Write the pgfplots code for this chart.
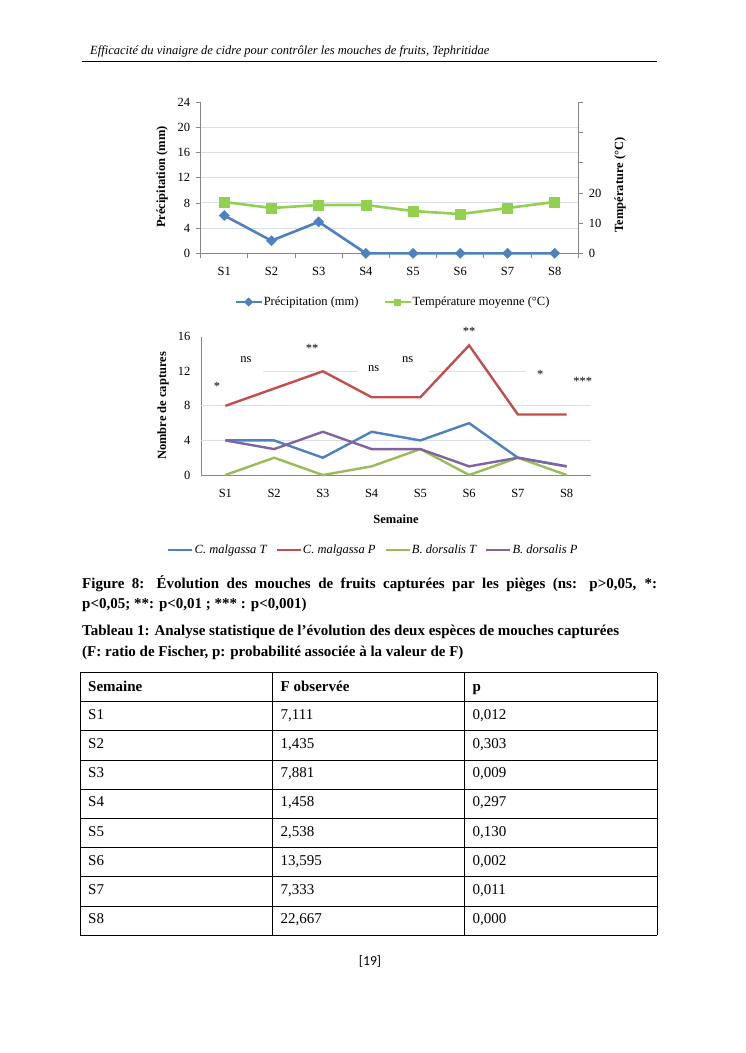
\documentclass[border=0pt]{standalone}
\usepackage{fontspec}
\setmainfont{Liberation Serif}
\newfontfamily\calib{Carlito}
\usepackage{pgfplots}
\pgfplotsset{compat=1.18}
\definecolor{cblue}{RGB}{79,129,189}
\definecolor{cred}{RGB}{192,80,77}
\definecolor{cgreen}{RGB}{155,187,89}
\definecolor{cpurple}{RGB}{128,100,162}
\definecolor{lgreen}{RGB}{146,208,80}
\definecolor{gridc}{RGB}{217,223,234}
\definecolor{axc}{RGB}{134,134,134}
\newcommand\cf{\fontsize{12.5}{15}\selectfont}
\newcommand\bff{\fontsize{15}{18}\selectfont\bfseries}
\newcommand\tf{\fontsize{15}{18}\selectfont}
\begin{document}
\begin{tikzpicture}
\useasboundingbox[fill=white] (0pt,0pt) rectangle (745pt,-1053pt);
% header
\node[anchor=base west, font=\cf\itshape, inner sep=0] at (90pt,-54pt) {Efficacité du vinaigre de cidre pour contrôler les mouches de fruits, Tephritidae};
\draw[line width=1pt] (82pt,-61pt) -- (657pt,-61pt);

% ---------- Chart 1 ----------
\begin{axis}[
 at={(200.7pt,-253.3pt)}, anchor=south west,
 scale only axis, width=377.6pt, height=151pt,
 xmin=0.5, xmax=8.5, ymin=0, ymax=24,
 axis x line*=bottom, axis y line*=left,
 axis line style={axc, line width=0.8pt},
 xtick={1,...,8}, xticklabels={S1,S2,S3,S4,S5,S6,S7,S8},
 major x tick style={draw=none},
 minor xtick={0.5,1.5,...,8.5},
 ytick={0,4,...,24},
 extra y ticks={4,8,...,20}, extra y tick labels={}, extra y tick style={grid=major},
 grid style={gridc, line width=1pt},
 tick align=outside, major tick length=5pt, minor tick length=5pt,
 tick style={axc, line width=0.8pt},
 tick label style={font=\cf},
 /pgf/number format/assume math mode=true,
 xticklabel style={yshift=-5pt}, yticklabel style={xshift=-2pt},
 clip=false,
]
\addplot[cblue, line width=2.6pt, mark=square*, mark size=3.6pt, mark options={solid, line width=0.4pt, rotate=45}] coordinates {(1,6)(2,2)(3,5)(4,0)(5,0)(6,0)(7,0)(8,0)};
\end{axis}
\begin{axis}[
 at={(200.7pt,-253.3pt)}, anchor=south west,
 scale only axis, width=377.6pt, height=151pt,
 xmin=0.5, xmax=8.5, ymin=0, ymax=50,
 axis x line=none, axis y line*=right,
 axis line style={axc, line width=0.8pt},
 ytick={0,10,...,50}, yticklabels={0,10,20,{},{},{}},
 tick align=outside, major tick length=5pt,
 tick style={axc, line width=0.8pt},
 tick label style={font=\cf},
 /pgf/number format/assume math mode=true,
 yticklabel style={xshift=2pt},
 legend style={at={(0.508,-0.3225)}, anchor=center, legend columns=-1, draw=none, font=\cf,
   /tikz/every even column/.append style={column sep=24pt}, nodes={inner sep=1pt}},
 legend image code/.code={\draw[#1, mark size=3pt, line width=2.2pt, mark repeat=2, mark phase=2] plot coordinates {(0pt,0pt)(13pt,0pt)(26pt,0pt)};},
 legend cell align=left,
]
\addlegendimage{cblue, line width=2.6pt, mark=square*, mark options={solid, line width=0.4pt, rotate=45}}
\addlegendentry{Précipitation (mm)}
\addplot[lgreen, line width=2.6pt, mark=square*, mark size=5pt, mark options={solid, line width=0.4pt}] coordinates {(1,17)(2,15)(3,16)(4,16)(5,14)(6,13)(7,15)(8,17)};
\addlegendentry{Température moyenne (°C)}
\end{axis}
\node[rotate=90, font=\cf\bfseries] at (162pt,-177pt) {Précipitation (mm)};
\node[rotate=90, font=\cf\bfseries] at (620pt,-185pt) {Température (°C)};

% ---------- Chart 2 ----------
\begin{axis}[
 at={(201pt,-475pt)}, anchor=south west,
 scale only axis, width=390pt, height=138.3pt,
 xmin=0.5, xmax=8.5, ymin=0, ymax=16,
 axis x line*=bottom, axis y line*=left,
 axis line style={axc, line width=0.8pt},
 xtick={1,...,8}, xticklabels={S1,S2,S3,S4,S5,S6,S7,S8},
 ytick={0,4,...,16}, major tick length=0pt,
 extra y ticks={4,8}, extra y tick labels={}, extra y tick style={grid=major},
 grid style={gridc, line width=1pt},
 tick label style={font=\cf},
 /pgf/number format/assume math mode=true,
 xticklabel style={yshift=-11pt}, yticklabel style={xshift=-7pt},
 legend style={at={(0.4408,-0.542)}, anchor=center, legend columns=-1, draw=none, font=\cf\itshape,
   /tikz/every even column/.append style={column sep=8pt}, nodes={inner sep=1pt}},
 legend image code/.code={\draw[#1] (0pt,0pt) -- (24pt,0pt);},
 legend cell align=left,
 clip=false,
]
\draw[gridc, line width=1pt] (axis cs:1.77,12) -- (axis cs:3.72,12);
\draw[gridc, line width=1pt] (axis cs:5.19,12) -- (axis cs:7.17,12);
\addplot[cblue, line width=2.4pt] coordinates {(1,4)(2,4)(3,2)(4,5)(5,4)(6,6)(7,2)(8,1)};
\addlegendentry{C. malgassa T}
\addplot[cred, line width=2.4pt] coordinates {(1,8)(2,10)(3,12)(4,9)(5,9)(6,15)(7,7)(8,7)};
\addlegendentry{C. malgassa P}
\addplot[cgreen, line width=2.4pt] coordinates {(1,0)(2,2)(3,0)(4,1)(5,3)(6,0)(7,2)(8,0)};
\addlegendentry{B. dorsalis T}
\addplot[cpurple, line width=2.4pt] coordinates {(1,4)(2,3)(3,5)(4,3)(5,3)(6,1)(7,2)(8,1)};
\addlegendentry{B. dorsalis P}
\node[font=\cf] at (axis cs:0.83,10.3) {*};
\node[font=\cf] at (axis cs:1.42,13.4) {ns};
\node[font=\cf] at (axis cs:2.78,14.6) {**};
\node[font=\cf] at (axis cs:4.04,12.35) {ns};
\node[font=\cf] at (axis cs:4.74,13.4) {ns};
\node[font=\cf] at (axis cs:6.0,16.6) {**};
\node[font=\cf] at (axis cs:7.46,11.65) {*};
\node[font=\cf] at (axis cs:8.33,10.8) {***};
\end{axis}
\node[rotate=90, font=\cf\bfseries] at (163pt,-406pt) {Nombre de captures};
\node[font=\cf\bfseries] at (396pt,-519pt) {Semaine};

% ---------- Captions ----------
\node[anchor=base west, inner sep=0, font=\bff] at (82pt,-588pt) {\makebox[575pt][s]{Figure 8: Évolution des mouches de fruits capturées par les pièges (ns: p>0,05, *:}};
\node[anchor=base west, inner sep=0, font=\bff] at (82pt,-608pt) {p<0,05; **: p<0,01 ; *** : p<0,001)};
\node[anchor=base west, inner sep=0, font=\bff] at (82pt,-635pt) {Tableau 1: Analyse statistique de l’évolution des deux espèces de mouches capturées};
\node[anchor=base west, inner sep=0, font=\bff] at (82pt,-656pt) {(F: ratio de Fischer, p: probabilité associée à la valeur de F)};

% ---------- Table ----------
\foreach \x in {80,272.3,464.7,657} \draw[line width=0.9pt] (\x pt,-672.7pt) -- (\x pt,-935.3pt);
\draw[line width=0.9pt] (80pt,-672.7pt) -- (657pt,-672.7pt);
\foreach \i in {0,...,8} \draw[line width=0.9pt] (80pt,{-701.7pt-\i*29.2pt}) -- (657pt,{-701.7pt-\i*29.2pt});
\node[anchor=base west, inner sep=0, font=\bff] at (88pt,-691pt) {Semaine};
\node[anchor=base west, inner sep=0, font=\bff] at (280.5pt,-691pt) {F observée};
\node[anchor=base west, inner sep=0, font=\bff] at (472.5pt,-691pt) {p};
\foreach \s/\f/\p [count=\i from 0] in {S1/{7,111}/{0,012}, S2/{1,435}/{0,303}, S3/{7,881}/{0,009}, S4/{1,458}/{0,297}, S5/{2,538}/{0,130}, S6/{13,595}/{0,002}, S7/{7,333}/{0,011}, S8/{22,667}/{0,000}}{
 \node[anchor=base west, inner sep=0, font=\tf] at (88pt,{-719.2pt-\i*29.2pt}) {\s};
 \node[anchor=base west, inner sep=0, font=\tf] at (280.5pt,{-719.2pt-\i*29.2pt}) {\f};
 \node[anchor=base west, inner sep=0, font=\tf] at (472.5pt,{-719.2pt-\i*29.2pt}) {\p};
}
\node[font=\calib\fontsize{13.75}{16}\selectfont] at (370pt,-961pt) {[19]};
\end{tikzpicture}
\end{document}
